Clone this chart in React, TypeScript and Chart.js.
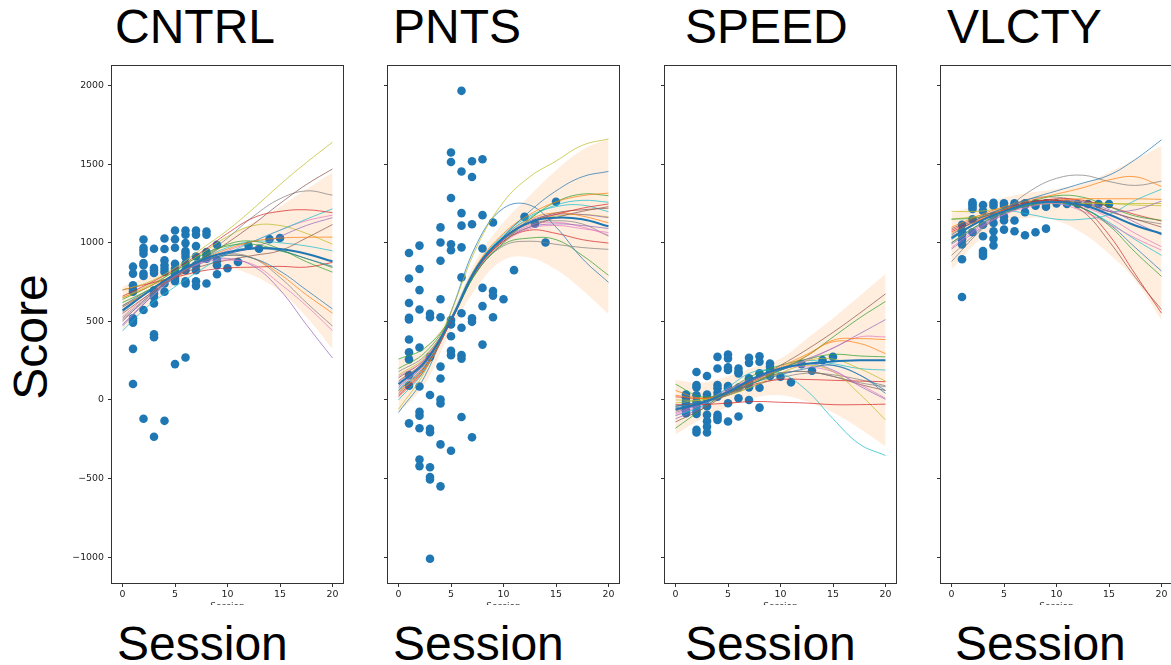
import React, { useEffect, useRef } from "react";
import { Chart, registerables } from "chart.js";

Chart.register(...registerables);

// ---------- shared axis data ----------
const panelTitles = ["CNTRL", "PNTS", "SPEED", "VLCTY"];
const knotSessions = [0, 2.5, 5, 7.5, 10, 12.5, 15, 17.5, 20];
const xTickValues = [0, 5, 10, 15, 20];
const xTickLabels = ["0", "5", "10", "15", "20"];
const yTickValues = [-1000, -500, 0, 500, 1000, 1500, 2000];
const yTickLabels = ["\u22121000", "\u2212500", "0", "500", "1000", "1500", "2000"];
const xAxisLabel = "Session";
const yAxisLabel = "Score";

const tab10 = [
  "31,119,180",
  "255,127,14",
  "44,160,44",
  "214,39,40",
  "148,103,189",
  "140,86,75",
  "227,119,194",
  "127,127,127",
  "188,189,34",
  "23,190,207",
];

// ---------- CNTRL ----------
const cntrlSessions = [
  1, 1, 1, 1, 1, 1, 1, 1, 1, 1,
  2, 2, 2, 2, 2, 2, 2, 2, 2, 2,
  3, 3, 3, 3, 3, 3, 3, 3, 3, 3, 3,
  4, 4, 4, 4, 4, 4, 4, 4, 4,
  5, 5, 5, 5, 5, 5, 5, 5, 5,
  6, 6, 6, 6, 6, 6, 6, 6, 6, 6, 6,
  7, 7, 7, 7, 7, 7, 7, 7,
  8, 8, 8, 8, 8, 8,
  9, 9, 9, 9,
  10, 11, 12, 13, 14, 15,
];
const cntrlScores = [
  848, 804, 730, 703, 688, 519, 504, 492, 325, 101,
  1021, 968, 951, 930, 871, 857, 804, 789, 572, -120,
  962, 840, 825, 808, 698, 677, 656, 614, 418, 399, -234,
  1027, 960, 888, 857, 835, 814, 741, 688, -133,
  1078, 1023, 968, 867, 835, 804, 772, 755, 228,
  1078, 1051, 998, 947, 930, 909, 867, 825, 755, 741, 270,
  1078, 1051, 979, 913, 857, 825, 755, 726,
  1072, 1051, 941, 920, 899, 741,
  987, 888, 857, 800,
  838, 878, 981, 962, 1023, 1030,
];
const cntrlCurves = [
  [560, 690, 800, 880, 920, 900, 820, 700, 579],
  [650, 720, 800, 890, 960, 1010, 1030, 1035, 1036],
  [620, 700, 800, 900, 990, 1010, 960, 880, 813],
  [660, 740, 830, 940, 1060, 1160, 1200, 1210, 1192],
  [470, 640, 790, 880, 900, 850, 700, 480, 267],
  [550, 670, 780, 890, 1000, 1120, 1250, 1370, 1470],
  [480, 640, 780, 870, 890, 860, 740, 600, 441],
  [520, 660, 790, 900, 1030, 1170, 1280, 1330, 1303],
  [700, 750, 840, 960, 1080, 1220, 1370, 1510, 1640],
  [440, 600, 720, 830, 930, 1010, 1080, 1150, 1216],
  [600, 700, 790, 870, 930, 960, 950, 900, 850],
  [600, 690, 790, 880, 920, 900, 800, 670, 552],
  [640, 720, 820, 920, 980, 990, 950, 900, 842],
  [700, 740, 780, 820, 840, 845, 850, 845, 875],
  [500, 660, 790, 880, 930, 970, 1040, 1110, 1160],
  [590, 690, 780, 850, 890, 920, 950, 1030, 1116],
  [530, 670, 790, 880, 950, 1010, 1080, 1140, 1176],
  [510, 650, 790, 890, 930, 900, 780, 620, 470],
  [650, 730, 820, 930, 1040, 1110, 1110, 1060, 991],
  [480, 640, 780, 890, 970, 1010, 1000, 980, 949],
];
const cntrlMean = [570, 690, 800, 890, 940, 965, 960, 930, 882];
const cntrlUpper = [720, 790, 870, 950, 1040, 1130, 1230, 1340, 1448];
const cntrlLower = [440, 600, 730, 820, 840, 790, 690, 530, 325];

// ---------- PNTS ----------
const pntsSessions = [
  1, 1, 1, 1, 1, 1, 1, 1, 1, 1, 1,
  2, 2, 2, 2, 2, 2, 2, 2, 2, 2, 2,
  3, 3, 3, 3, 3, 3, 3, 3, 3, 3,
  4, 4, 4, 4, 4, 4, 4, 4, 4, 4, 4,
  5, 5, 5, 5, 5, 5, 5, 5, 5, 5, 5,
  6, 6, 6, 6, 6, 6, 6, 6, 6, 6, 6,
  7, 7, 7, 7, 7, 7,
  8, 8, 8, 8, 8, 8,
  9, 9, 9, 9,
  10, 11, 12, 13, 14, 15,
];
const pntsScores = [
  935, 773, 617, 523, 512, 385, 303, 258, 158, 91, -149,
  982, 833, 699, 575, 334, 85, -76, -100, -180, -379, -421,
  548, 526, 274, 31, -183, -205, -428, -490, -506, -1011,
  1098, 1002, 886, 641, 526, 212, 136, 2, -22, -283, -550,
  1575, 1514, 1285, 991, 953, 508, 481, 405, 312, 285, -323,
  1967, 1454, 1189, 1109, 971, 780, 552, 459, 285, 263, -109,
  1519, 1419, 1118, 519, 497, -238,
  1532, 1176, 964, 713, 597, 352,
  1129, 693, 664, 526,
  641, 826, 1165, 1122, 1002, 1261,
];
const pntsCurves = [
  [60, 210, 510, 850, 1040, 1200, 1330, 1420, 1454],
  [50, 200, 510, 860, 1060, 1180, 1260, 1300, 1316],
  [260, 330, 520, 820, 1000, 1150, 1260, 1310, 1300],
  [30, 200, 500, 840, 1030, 1130, 1180, 1220, 1247],
  [80, 230, 520, 850, 1020, 1100, 1120, 1110, 1091],
  [120, 250, 520, 840, 1020, 1130, 1190, 1210, 1220],
  [150, 260, 520, 830, 1000, 1090, 1110, 1090, 1065],
  [180, 280, 510, 820, 980, 1010, 990, 970, 958],
  [-60, 180, 560, 980, 1260, 1420, 1520, 1620, 1661],
  [0, 190, 520, 860, 1040, 1160, 1240, 1270, 1258],
  [-80, 150, 560, 1000, 1220, 1240, 1100, 900, 748],
  [60, 220, 510, 850, 1040, 1150, 1190, 1170, 1127],
  [200, 300, 520, 820, 990, 1030, 1020, 920, 793],
  [20, 190, 500, 830, 1010, 1080, 1060, 1020, 998],
  [110, 250, 510, 840, 1030, 1140, 1180, 1180, 1160],
  [140, 260, 510, 830, 1010, 1100, 1160, 1200, 1230],
  [90, 230, 510, 840, 1020, 1110, 1130, 1100, 1050],
  [40, 210, 510, 850, 1030, 1120, 1140, 1120, 1042],
  [160, 270, 520, 830, 1020, 1130, 1170, 1180, 1165],
  [70, 220, 510, 850, 1050, 1170, 1230, 1240, 1198],
];
const pntsMean = [100, 240, 510, 845, 1030, 1130, 1160, 1150, 1105];
const pntsUpper = [260, 330, 560, 900, 1130, 1300, 1460, 1590, 1662];
const pntsLower = [-82, 100, 440, 720, 890, 905, 830, 700, 548];

// ---------- SPEED ----------
const speedSessions = [
  1, 1, 1, 1, 1, 1, 1,
  2, 2, 2, 2, 2, 2, 2, 2, 2, 2,
  3, 3, 3, 3, 3, 3, 3, 3,
  4, 4, 4, 4, 4, 4, 4, 4, 4,
  5, 5, 5, 5, 5, 5, 5, 5,
  6, 6, 6, 6, 6, 6,
  7, 7, 7, 7, 7, 7,
  8, 8, 8, 8, 8,
  9, 9, 9, 9, 9,
  10, 11, 12, 13, 14, 15,
];
const speedScores = [
  35, 15, -5, -25, -45, -65, -85,
  178, 95, 80, 30, -10, -40, -70, -90, -190, -207,
  152, 35, 10, -40, -95, -135, -170, -207,
  274, 200, 95, 74, 46, 21, -95, -110, -127,
  289, 264, 207, 190, 89, 74, -21, -137,
  200, 179, 169, 78, 11, -105,
  268, 236, 137, 116, 80, 0,
  278, 243, 169, 78, -49,
  232, 211, 190, 165, 152,
  148, 112, 228, 186, 253, 274,
];
const speedCurves = [
  [-40, -10, 40, 110, 160, 200, 220, 160, 42],
  [60, 10, 40, 120, 200, 280, 380, 390, 384],
  [100, 20, 50, 110, 190, 280, 400, 520, 627],
  [-30, -30, -20, -10, -15, -20, -30, -30, -27],
  [-80, -20, 60, 130, 200, 260, 330, 420, 511],
  [-140, -60, 40, 130, 220, 320, 430, 550, 675],
  [-100, -30, 60, 140, 200, 210, 180, 100, 11],
  [-60, -20, 30, 110, 170, 180, 150, 110, 84],
  [-20, 0, 30, 90, 170, 220, 180, 40, -127],
  [-100, -40, 80, 180, 170, 60, -120, -280, -354],
  [-50, -20, 50, 130, 190, 230, 220, 160, 60],
  [30, 10, 50, 130, 210, 290, 370, 360, 295],
  [-180, -60, 60, 160, 220, 260, 290, 280, 274],
  [20, 10, 40, 100, 130, 130, 125, 120, 116],
  [-120, -50, 50, 130, 190, 230, 190, 90, 4],
  [-70, -20, 40, 120, 170, 180, 150, 100, 60],
  [-90, -20, 70, 140, 190, 250, 330, 400, 401],
  [-40, -10, 30, 90, 140, 170, 160, 130, 90],
  [0, 0, 30, 110, 190, 250, 260, 200, 120],
  [-40, -20, 40, 130, 200, 250, 230, 200, 190],
];
const speedMean = [-60, -20, 50, 140, 200, 230, 245, 252, 253];
const speedUpper = [127, 110, 150, 210, 264, 390, 520, 660, 802];
const speedLower = [-220, -120, -45, 15, 30, -10, -80, -180, -295];

// ---------- VLCTY ----------
const vlctySessions = [
  1, 1, 1, 1, 1, 1, 1,
  2, 2, 2, 2, 2, 2,
  3, 3, 3, 3, 3, 3, 3,
  4, 4, 4, 4, 4, 4, 4,
  5, 5, 5, 5, 5,
  6, 6, 6, 6,
  7, 7, 7, 7,
  8, 8, 8,
  9, 9, 9,
  10, 11, 12, 13, 14, 15,
];
const vlctyScores = [
  1115, 1073, 1052, 1021, 990, 895, 655,
  1257, 1245, 1230, 1215, 1150, 1067,
  1240, 1203, 1115, 1042, 948, 931, 916,
  1255, 1236, 1167, 1126, 1073, 1025, 983,
  1251, 1236, 1167, 1142, 1084,
  1251, 1236, 1142, 1073,
  1251, 1240, 1195, 1048,
  1251, 1236, 1067,
  1251, 1230, 1090,
  1251, 1247, 1247, 1247, 1247, 1247,
];
const vlctyCurves = [
  [1050, 1150, 1220, 1280, 1330, 1380, 1430, 1530, 1655],
  [1100, 1170, 1230, 1270, 1310, 1350, 1400, 1420, 1359],
  [1000, 1110, 1190, 1240, 1260, 1220, 1110, 940, 786],
  [1080, 1150, 1210, 1260, 1270, 1220, 1050, 800, 552],
  [990, 1100, 1190, 1240, 1260, 1240, 1200, 1210, 1265],
  [1040, 1130, 1200, 1250, 1270, 1200, 1010, 780, 575],
  [970, 1090, 1180, 1230, 1250, 1200, 1120, 1030, 953],
  [880, 1060, 1200, 1330, 1410, 1430, 1390, 1365, 1392],
  [1200, 1200, 1220, 1240, 1250, 1250, 1250, 1240, 1236],
  [1020, 1130, 1200, 1180, 1150, 1150, 1180, 1270, 1341],
  [1030, 1130, 1200, 1250, 1260, 1220, 1120, 970, 820],
  [1060, 1140, 1210, 1250, 1270, 1280, 1280, 1280, 1276],
  [1150, 1160, 1200, 1260, 1300, 1290, 1230, 1170, 1143],
  [1070, 1140, 1200, 1250, 1280, 1270, 1230, 1180, 1138],
  [960, 1080, 1180, 1240, 1270, 1260, 1210, 1130, 1050],
  [1090, 1160, 1220, 1260, 1270, 1250, 1200, 1150, 1100],
  [1000, 1110, 1200, 1250, 1260, 1230, 1160, 1060, 975],
  [920, 1070, 1210, 1280, 1290, 1260, 1200, 1150, 1120],
  [1150, 1170, 1210, 1250, 1270, 1260, 1250, 1250, 1250],
  [1000, 1110, 1190, 1240, 1250, 1220, 1130, 1020, 920],
];
const vlctyMean = [1030, 1130, 1200, 1250, 1260, 1240, 1180, 1110, 1058];
const vlctyUpper = [1190, 1240, 1287, 1320, 1343, 1376, 1448, 1532, 1615];
const vlctyLower = [830, 1010, 1125, 1160, 1140, 1060, 930, 760, 508];

const panels = [
  { sessions: cntrlSessions, scores: cntrlScores, curves: cntrlCurves, mean: cntrlMean, upper: cntrlUpper, lower: cntrlLower },
  { sessions: pntsSessions, scores: pntsScores, curves: pntsCurves, mean: pntsMean, upper: pntsUpper, lower: pntsLower },
  { sessions: speedSessions, scores: speedScores, curves: speedCurves, mean: speedMean, upper: speedUpper, lower: speedLower },
  { sessions: vlctySessions, scores: vlctyScores, curves: vlctyCurves, mean: vlctyMean, upper: vlctyUpper, lower: vlctyLower },
];

// ---------- layout ----------
const boxLefts = [112, 388, 665, 941];
const boxTop = 66;
const boxW = 231;
const boxH = 517;
const axisW = 50;
const padTop = 10;
const padRight = 10;
const axisH = 20;
const titleLefts = [115, 393, 685, 947];
const sessionLefts = [117, 393, 685, 955];
const bigFont = "'Liberation Sans', Arial, Helvetica, sans-serif";
const tickFont = { family: "'DejaVu Sans', sans-serif", size: 9.4 };
const spineColor = "#333";

const boxPlugin = {
  id: "spineBox",
  afterDraw(chart: any) {
    const { ctx, chartArea: a } = chart;
    ctx.save();
    ctx.strokeStyle = spineColor;
    ctx.lineWidth = 1;
    ctx.strokeRect(a.left - 0.5, a.top - 0.5, a.right - a.left + 1, a.bottom - a.top + 1);
    ctx.restore();
  },
};

function Panel({ idx }: { idx: number }) {
  const ref = useRef<HTMLCanvasElement>(null);
  const cw = axisW + boxW + padRight;
  const ch = padTop + boxH + axisH;

  useEffect(() => {
    const p = panels[idx];
    const toPts = (vals: number[]) => vals.map((v, i) => ({ x: knotSessions[i], y: v }));
    const datasets: any[] = [
      {
        type: "line",
        data: toPts(p.lower),
        borderColor: "rgba(0,0,0,0)",
        borderWidth: 0,
        pointRadius: 0,
        fill: false,
        tension: 0.4,
        order: 30,
      },
      {
        type: "line",
        data: toPts(p.upper),
        borderColor: "rgba(0,0,0,0)",
        borderWidth: 0,
        pointRadius: 0,
        fill: "-1",
        backgroundColor: "rgba(255,127,14,0.14)",
        tension: 0.4,
        order: 30,
      },
      {
        type: "scatter",
        data: p.sessions.map((s, i) => ({ x: s, y: p.scores[i] })),
        backgroundColor: "#1f77b4",
        borderWidth: 0,
        pointRadius: 4.3,
        pointBorderWidth: 0,
        order: 20,
      },
      ...p.curves.map((c, k) => ({
        type: "line",
        data: toPts(c),
        borderColor: `rgba(${tab10[k % 10]},0.72)`,
        borderWidth: 1,
        pointRadius: 0,
        fill: false,
        tension: 0.4,
        order: 10,
      })),
      {
        type: "line",
        data: toPts(p.mean),
        borderColor: "#1f77b4",
        borderWidth: 2,
        pointRadius: 0,
        fill: false,
        tension: 0.4,
        order: 0,
      },
    ];

    const chart = new Chart(ref.current as HTMLCanvasElement, {
      type: "scatter",
      data: { datasets },
      plugins: [boxPlugin],
      options: {
        animation: false,
        responsive: false,
        maintainAspectRatio: false,
        events: [],
        layout: { padding: { top: padTop, right: padRight, left: 0, bottom: 0 } },
        plugins: { legend: { display: false }, tooltip: { enabled: false } },
        scales: {
          x: {
            type: "linear",
            min: -1,
            max: 21,
            afterBuildTicks: (s: any) => {
              s.ticks = xTickValues.map((v) => ({ value: v }));
            },
            afterFit: (s: any) => {
              s.height = axisH;
            },
            grid: { display: true, drawOnChartArea: false, drawTicks: true, tickLength: 4, color: spineColor },
            border: { display: false },
            ticks: {
              font: tickFont,
              color: "#222",
              padding: 2,
              maxRotation: 0,
              autoSkip: false,
              callback: (v: any) => xTickLabels[xTickValues.indexOf(Number(v))] ?? "",
            },
          },
          y: {
            type: "linear",
            min: -1165,
            max: 2125,
            afterBuildTicks: (s: any) => {
              s.ticks = yTickValues.map((v) => ({ value: v }));
            },
            afterFit: (s: any) => {
              s.width = axisW;
            },
            grid: { display: true, drawOnChartArea: false, drawTicks: true, tickLength: 4, color: spineColor },
            border: { display: false },
            ticks: {
              display: idx === 0,
              font: tickFont,
              color: "#222",
              padding: 4,
              autoSkip: false,
              callback: (v: any) => yTickLabels[yTickValues.indexOf(Number(v))] ?? "",
            },
          },
        },
      } as any,
    });
    return () => chart.destroy();
  }, [idx]);

  return (
    <canvas
      ref={ref}
      width={cw}
      height={ch}
      style={{
        position: "absolute",
        left: boxLefts[idx] - axisW,
        top: boxTop - padTop,
        width: cw,
        height: ch,
      }}
    />
  );
}

export default function App() {
  return (
    <div
      style={{
        position: "fixed",
        left: 0,
        top: 0,
        width: 1171,
        height: 665,
        overflow: "hidden",
        background: "#fff",
      }}
    >
      {panelTitles.map((t, i) => (
        <div
          key={"t" + i}
          style={{
            position: "absolute",
            left: titleLefts[i],
            top: 3,
            fontFamily: bigFont,
            fontSize: 48,
            lineHeight: "48px",
            color: "#000",
            whiteSpace: "nowrap",
          }}
        >
          {t}
        </div>
      ))}
      {panelTitles.map((_, i) => (
        <Panel key={"p" + i} idx={i} />
      ))}
      {panelTitles.map((_, i) => (
        <div
          key={"sl" + i}
          style={{
            position: "absolute",
            left: boxLefts[i],
            width: boxW,
            top: 600,
            height: 5,
            overflow: "hidden",
            textAlign: "center",
            fontFamily: "'DejaVu Sans', sans-serif",
            fontSize: 9,
            lineHeight: "12px",
            color: "#333",
          }}
        >
          {xAxisLabel}
        </div>
      ))}
      {panelTitles.map((_, i) => (
        <div
          key={"s" + i}
          style={{
            position: "absolute",
            left: sessionLefts[i],
            top: 620,
            fontFamily: bigFont,
            fontSize: 48,
            lineHeight: "48px",
            color: "#000",
            whiteSpace: "nowrap",
          }}
        >
          {xAxisLabel}
        </div>
      ))}
      <div
        style={{
          position: "absolute",
          left: 31,
          top: 337,
          transform: "translate(-50%, -50%) rotate(-90deg)",
          fontFamily: bigFont,
          fontSize: 48,
          lineHeight: "48px",
          color: "#000",
          whiteSpace: "nowrap",
        }}
      >
        {yAxisLabel}
      </div>
    </div>
  );
}
